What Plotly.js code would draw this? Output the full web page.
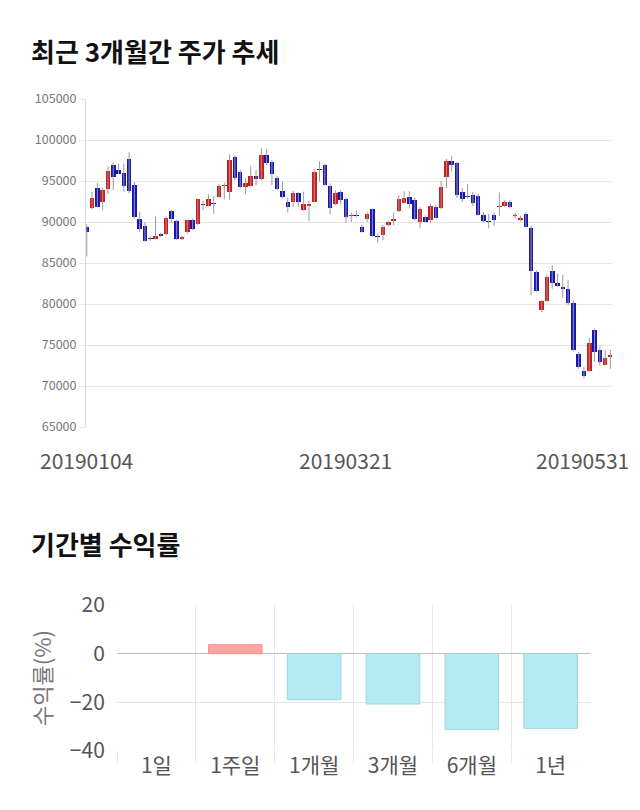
<!DOCTYPE html>
<html>
<head>
<meta charset="utf-8">
<script src="https://cdn.plot.ly/plotly-3.0.1.min.js"></script>
<style>
  html, body { margin: 0; padding: 0; background: #fff; }
  #chart { width: 640px; height: 810px; }
</style>
</head>
<body>
<div id="chart"></div>
<script>
// ---------- Data: daily candles (Jan 4 2019 – May 31 2019) ----------
const openPrices = [
  89400,91750,94200,92500,94000,96950,96350,95950,97700,94500,
  90350,89500,88050,87950,88550,88550,91350,90100,87900,88750,
  90200,89700,92250,92000,92300,93000,94450,93700,97900,96050,
  94300,94450,95600,95200,98150,97300,95400,93800,92500,92500,
  93500,91450,91950,92500,96500,97000,94450,92150,93600,92750,
  90750,90850,89350,90350,91550,88350,88450,89600,90150,91400,
  92350,93050,92700,90000,90600,90300,91850,91750,95500,97500,
  97250,93600,93200,93350,93150,90900,90100,90900,91850,91950,
  92500,90750,90200,91000,89300,83900,79250,80350,84000,82600,
  82100,81850,80150,73950,71850,71800,76850,74450,72600,73550
];
const highPrices = [
  89700,93700,94800,94200,96750,97300,97100,97150,98500,94900,
  91250,89950,88200,90650,88700,90650,91450,90250,88300,90300,
  90400,92850,92600,93350,93150,94650,94750,98250,98150,96300,
  95350,96850,96350,99000,98900,97550,95550,94900,92950,93800,
  93600,93700,92600,96400,97400,97100,94700,93850,93850,93000,
  91150,91400,89650,91200,91650,88550,89650,90200,91150,93250,
  93750,93750,92950,91800,90800,92250,92100,95000,97700,98050,
  97350,94150,94650,93650,93450,91200,91000,91150,93600,92650,
  92650,91100,90750,91200,89550,84100,80450,83600,84700,83700,
  83550,82900,80450,74150,72300,75850,77000,74750,74450,74400
];
const lowPrices = [
  85800,91550,91800,91450,93400,93900,95800,93700,93500,90450,
  88800,87600,87750,87900,88150,88400,89900,87800,87800,88600,
  89000,89650,91450,91900,91000,92900,92750,92700,95100,94100,
  93400,94300,94500,95100,96950,94500,93900,92900,91150,91850,
  91850,91350,90150,92400,94900,94450,90900,92050,92150,89900,
  90000,90600,88700,90000,88200,87500,87800,89500,89600,91200,
  92250,91650,90200,89250,90000,89900,90400,91550,94150,96150,
  92950,92450,92850,91950,90800,89900,89200,89500,90750,91800,
  91650,90400,90100,89300,81050,81500,79000,80250,81850,82050,
  80800,79850,74250,72100,70950,71700,72950,72500,72500,72100
];
const closePrices = [
  88750,92900,91850,93900,96200,95450,95900,94400,93800,90550,
  89150,87700,87900,88350,88300,90450,90350,87900,88150,90200,
  89100,92800,92050,92750,92150,94400,94500,97550,95400,94300,
  94700,95600,95200,98150,97150,95800,94000,93000,91800,93500,
  92500,92150,92250,96050,96350,94550,91650,93550,92700,90600,
  90850,90750,88800,90950,88300,88150,89400,90000,90400,92750,
  92950,92250,90400,91550,90050,91950,90500,94250,97400,97000,
  93350,92750,93100,92350,90900,90100,90000,90200,91950,92500,
  91850,90850,90500,89400,84000,81550,80350,83350,82550,82200,
  81850,80150,74350,72300,71200,75250,74150,72950,73400,73800
];
const dateTickIndex = [0, 49, 99];
const dateTickLabels = ['20190104', '20190321', '20190531'];

// ---------- Data: period returns ----------
const periods = ['1일', '1주일', '1개월', '3개월', '6개월', '1년'];
const returns = [0, 3.7, -18.9, -20.7, -31.2, -30.7];

// ---------- Build traces ----------
const idx = openPrices.map((_, i) => i);
const UP = '#d21a1a', DOWN = '#1616b4';

const wickX = [], wickY = [];
idx.forEach(i => { wickX.push(i, i, null); wickY.push(lowPrices[i], highPrices[i], null); });

const wicks = {
  type: 'scatter', mode: 'lines', x: wickX, y: wickY,
  line: { color: '#9a9a9a', width: 1 }, hoverinfo: 'skip',
  xaxis: 'x', yaxis: 'y'
};
const bodies = {
  type: 'bar', x: idx,
  base: idx.map(i => Math.min(openPrices[i], closePrices[i])),
  y: idx.map(i => Math.max(Math.abs(closePrices[i] - openPrices[i]), 100)),
  width: 0.86,
  marker: { color: idx.map(i => closePrices[i] >= openPrices[i] ? UP : DOWN), line: { width: 0 } },
  xaxis: 'x', yaxis: 'y'
};
const retBars = {
  type: 'bar', x: periods, y: returns, width: 0.68,
  marker: {
    color: returns.map(v => v >= 0 ? '#ffa3a3' : '#b3eaf3'),
    line: {
      width: returns.map(v => v === 0 ? 0 : 1),
      color: returns.map(v => v >= 0 ? '#f59393' : '#9fd6e0')
    }
  },
  xaxis: 'x2', yaxis: 'y2'
};

const H = 810, W = 640;
const FONT = '"Noto Sans CJK KR", "Noto Sans", sans-serif';

const annotations = [
  { text: '<b>최근 3개월간 주가 추세</b>', xref: 'paper', yref: 'paper', x: 29 / W, y: 1 - 50 / H,
    xanchor: 'left', yanchor: 'middle', showarrow: false, font: { size: 26, color: '#111', family: FONT } },
  { text: '<b>기간별 수익률</b>', xref: 'paper', yref: 'paper', x: 29 / W, y: 1 - 543 / H,
    xanchor: 'left', yanchor: 'middle', showarrow: false, font: { size: 26, color: '#111', family: FONT } }
];
dateTickIndex.forEach((xi, k) => {
  const last = k === dateTickIndex.length - 1;
  annotations.push({
    text: dateTickLabels[k], xref: 'x', yref: 'paper', x: xi, y: 1 - 460 / H,
    xanchor: last ? 'right' : 'center', xshift: last ? 21 : 0, yanchor: 'middle', showarrow: false,
    font: { size: 21, color: '#555', family: FONT }
  });
});

const layout = {
  width: W, height: H,
  margin: { l: 0, r: 0, t: 0, b: 0 },
  paper_bgcolor: '#fff', plot_bgcolor: '#fff',
  showlegend: false, bargap: 0,
  font: { family: FONT },
  xaxis: {
    domain: [86 / W, 612 / W], range: [-0.15, 99.3],
    showgrid: false, zeroline: false, showticklabels: false, showline: false, ticks: '',
    fixedrange: true
  },
  yaxis: {
    domain: [1 - 427 / H, 1 - 99 / H], range: [65000, 105000], dtick: 5000, tick0: 65000,
    tickformat: 'd', showgrid: true, gridcolor: '#e6e6e6', gridwidth: 1,
    zeroline: false, showline: true, linecolor: '#dcdcdc', linewidth: 1,
    ticks: 'outside', ticklen: 6, tickcolor: '#e6e6e6',
    tickfont: { size: 12.5, color: '#777', family: FONT }
  },
  xaxis2: {
    domain: [117 / W, 590 / W], anchor: 'y2', type: 'category', range: [-0.5, 5.499],
    tickson: 'boundaries', showgrid: true, gridcolor: '#e8e8e8',
    ticks: 'outside', ticklen: 11, tickcolor: '#e8e8e8',
    showline: false, zeroline: false,
    tickfont: { size: 21, color: '#555', family: FONT }
  },
  yaxis2: {
    domain: [1 - 751 / H, 1 - 605 / H], anchor: 'x2', range: [-40, 20], dtick: 20,
    showgrid: true, gridcolor: '#e6e6e6', zeroline: true, zerolinecolor: '#bdbdbd', zerolinewidth: 1,
    showline: false, ticks: 'outside', ticklen: 7, tickcolor: 'rgba(0,0,0,0)',
    tickfont: { size: 21, color: '#555', family: FONT },
    title: { text: '수익률(%)', font: { size: 22, color: '#777', family: FONT }, standoff: 12 }
  },
  annotations
};

Plotly.newPlot('chart', [wicks, bodies, retBars], layout, { staticPlot: true, displayModeBar: false });
</script>
</body>
</html>
